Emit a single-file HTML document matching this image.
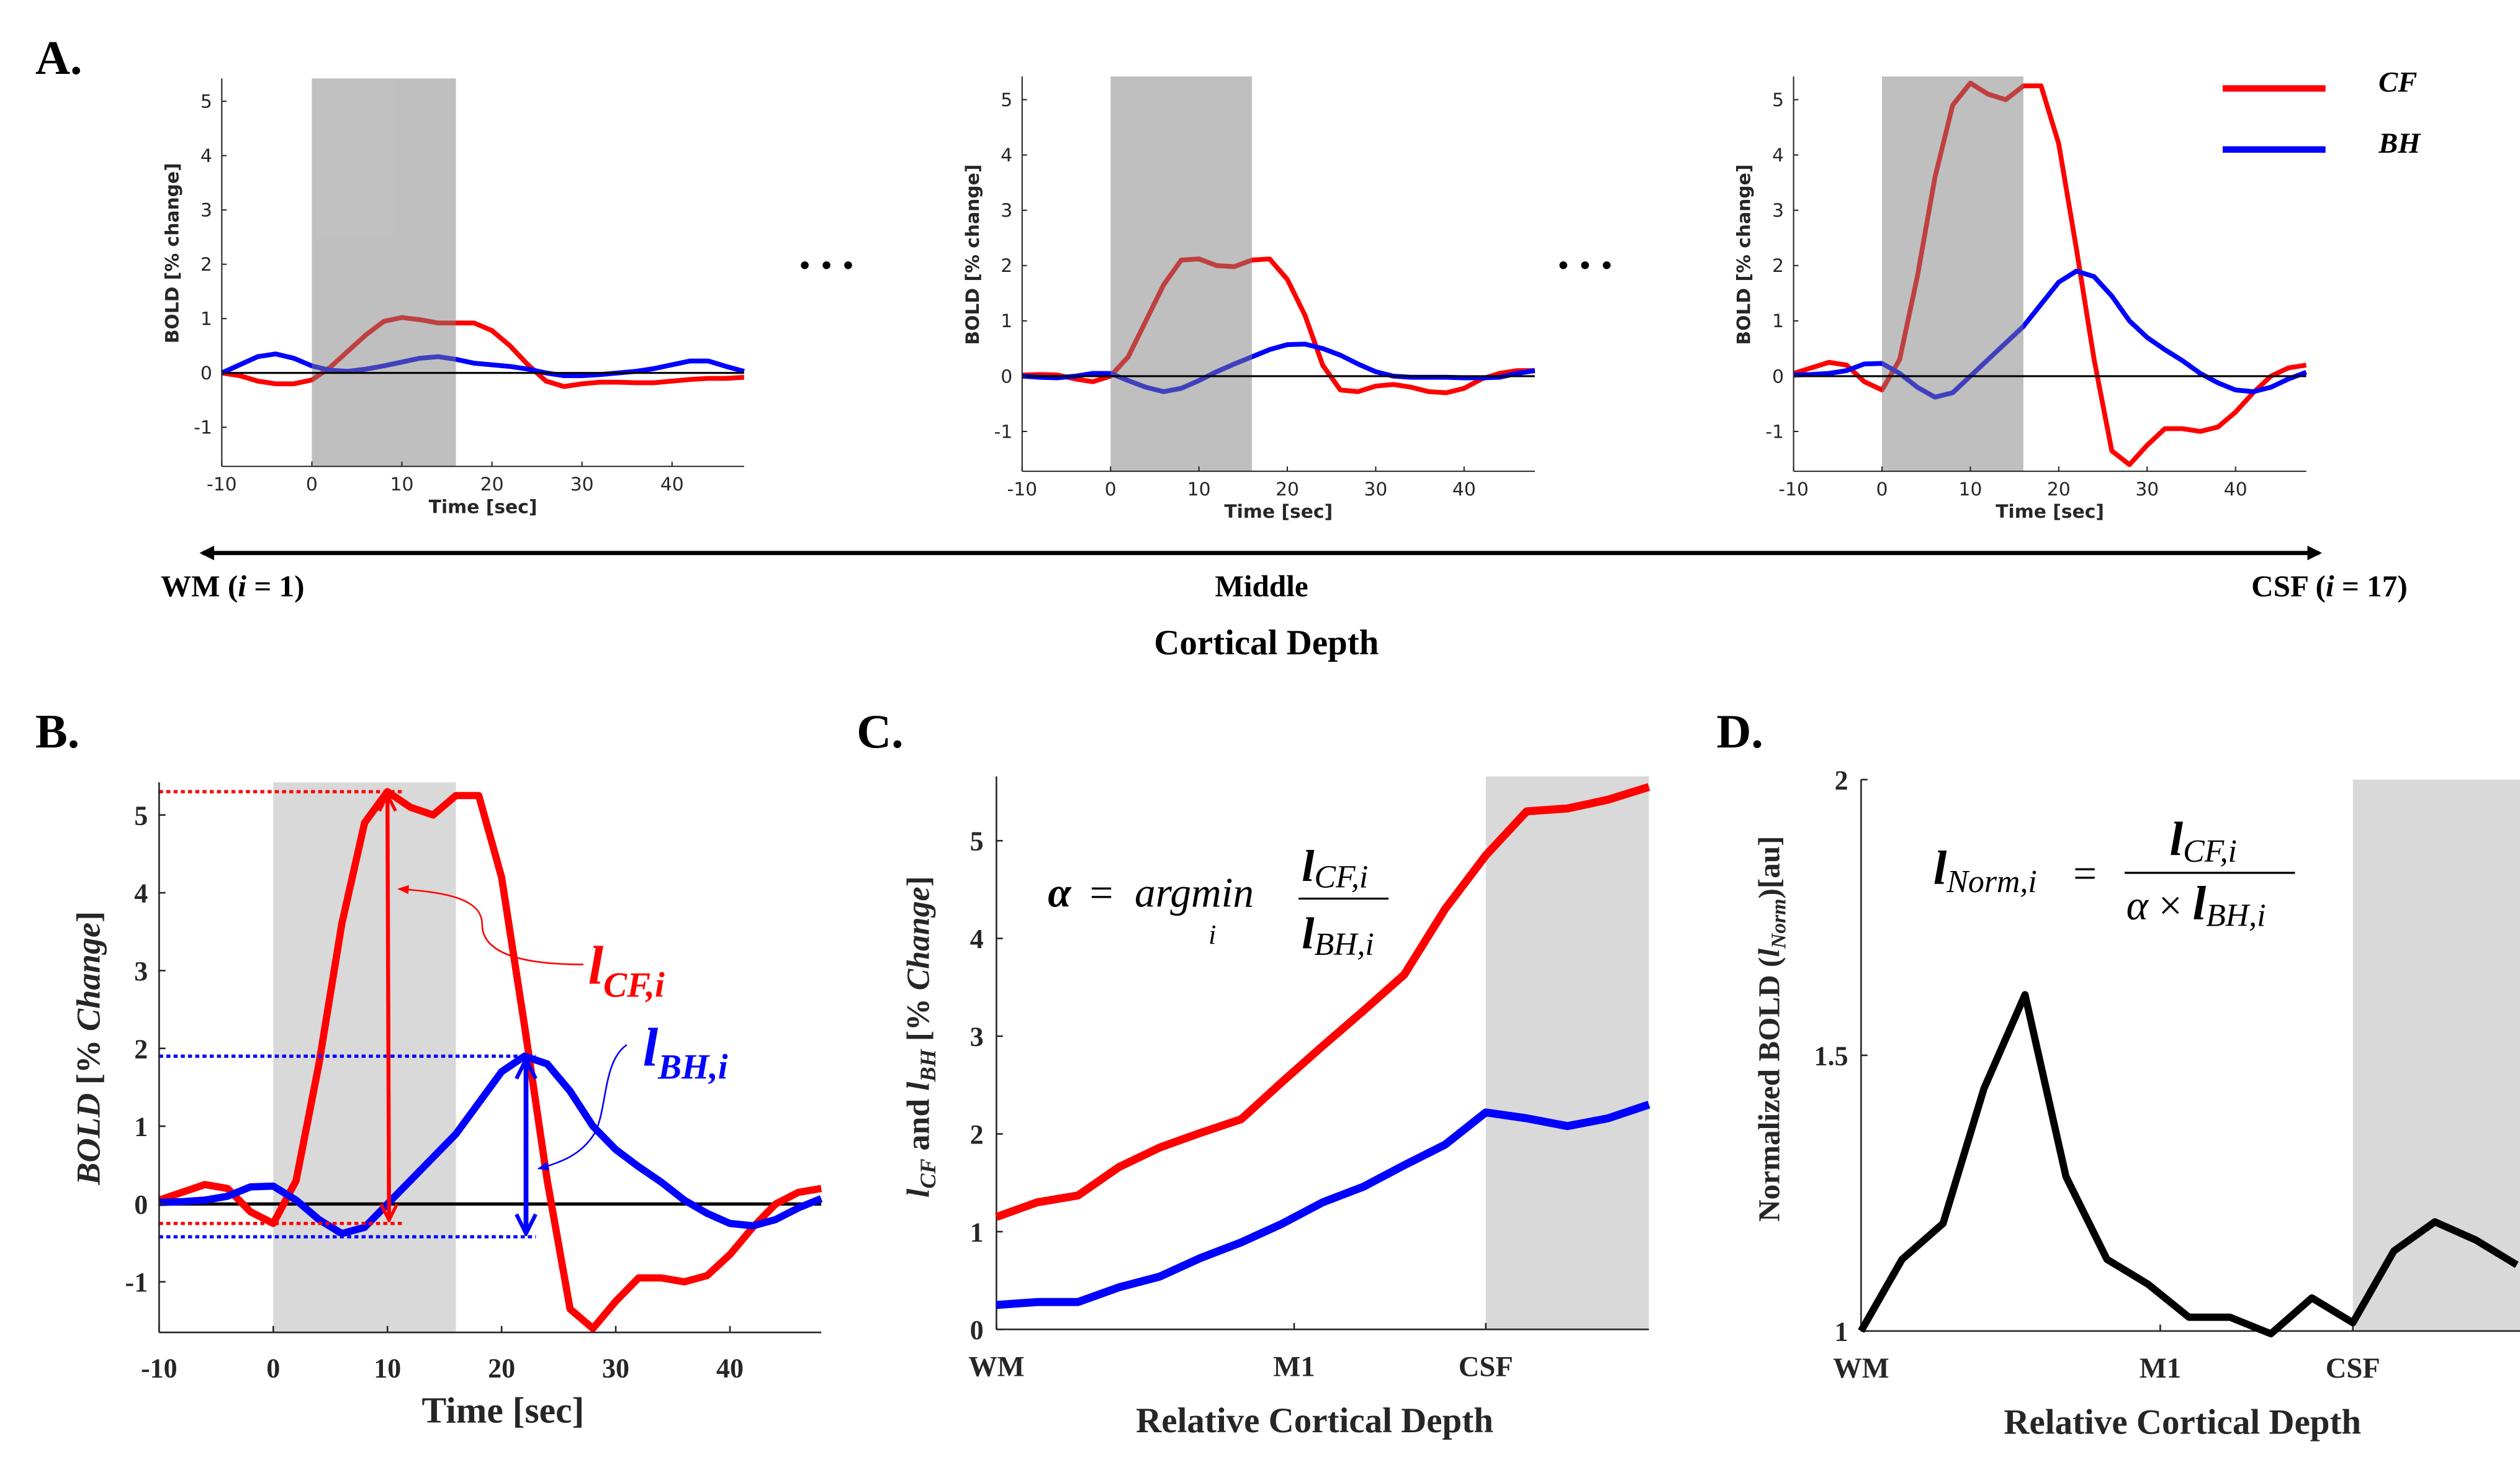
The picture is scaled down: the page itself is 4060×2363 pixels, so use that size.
<!DOCTYPE html>
<html><head><meta charset="utf-8">
<style>
html,body{margin:0;padding:0;background:#fff;}
svg{display:block;}
.serif{font-family:"Liberation Serif",serif;}
.sans{font-family:"DejaVu Sans","Liberation Sans",sans-serif;}
</style></head>
<body>
<svg id="fig" xmlns="http://www.w3.org/2000/svg" width="4060" height="2363" viewBox="0 0 1568 912.6">
<defs>
<marker id="arrR" viewBox="0 0 10 10" refX="9" refY="5" markerWidth="5" markerHeight="5" orient="auto-start-reverse"><path d="M1,1 L9,5 L1,9" fill="none" stroke="#ff0000" stroke-width="1.6"/></marker>
<marker id="arrB" viewBox="0 0 10 10" refX="9" refY="5" markerWidth="5" markerHeight="5" orient="auto-start-reverse"><path d="M1,1 L9,5 L1,9" fill="none" stroke="#0000ff" stroke-width="1.6"/></marker>
<marker id="tipR" viewBox="0 0 10 10" refX="9" refY="5" markerWidth="7" markerHeight="7" orient="auto"><path d="M0,1 L10,5 L0,9 Z" fill="#ff0000"/></marker>
<marker id="tipB" viewBox="0 0 10 10" refX="9" refY="5" markerWidth="7" markerHeight="7" orient="auto"><path d="M0,1 L10,5 L0,9 Z" fill="#0000ff"/></marker>
<marker id="bigArr" viewBox="0 0 10 10" refX="8" refY="5" markerWidth="3.5" markerHeight="3.5" orient="auto-start-reverse"><path d="M0,0 L10,5 L0,10 Z" fill="#000"/></marker>
</defs>
<g id="layer"></g>
</svg>
<script>
// ---------- data ----------
const times = [-10,-8,-6,-4,-2,0,2,4,6,8,10,12,14,16,18,20,22,24,26,28,30,32,34,36,38,40,42,44,46,48];
const wmCF  = [0,-0.05,-0.15,-0.2,-0.2,-0.13,0.1,0.4,0.7,0.95,1.02,0.98,0.92,0.92,0.92,0.78,0.5,0.15,-0.15,-0.25,-0.2,-0.17,-0.17,-0.18,-0.18,-0.15,-0.12,-0.1,-0.1,-0.08];
const wmBH  = [0,0.15,0.3,0.35,0.27,0.13,0.05,0.03,0.07,0.13,0.2,0.27,0.3,0.25,0.18,0.15,0.12,0.07,0,-0.05,-0.05,-0.03,0,0.03,0.08,0.15,0.22,0.22,0.12,0.03];
const midCF = [0.02,0.03,0.02,-0.05,-0.1,0,0.35,1.0,1.65,2.1,2.12,2.0,1.98,2.1,2.12,1.75,1.1,0.2,-0.25,-0.28,-0.18,-0.15,-0.2,-0.28,-0.3,-0.22,-0.05,0.05,0.1,0.1];
const midBH = [0,-0.02,-0.03,0,0.05,0.05,-0.08,-0.2,-0.28,-0.22,-0.08,0.08,0.22,0.35,0.48,0.57,0.58,0.5,0.38,0.22,0.08,0,-0.02,-0.02,-0.02,-0.03,-0.03,-0.02,0.05,0.1];
const csfCF = [0.05,0.15,0.25,0.2,-0.1,-0.25,0.3,1.8,3.6,4.9,5.3,5.1,5.0,5.25,5.25,4.2,2.3,0.3,-1.35,-1.6,-1.25,-0.95,-0.95,-1.0,-0.92,-0.65,-0.3,0.0,0.15,0.2];
const csfBH = [0.02,0.03,0.05,0.1,0.22,0.23,0.05,-0.2,-0.38,-0.3,0.0,0.3,0.6,0.9,1.3,1.7,1.9,1.8,1.45,1.0,0.7,0.48,0.28,0.05,-0.12,-0.25,-0.28,-0.2,-0.05,0.07];
const timeTicks = [-10,0,10,20,30,40];
const boldTicksA = [-1,0,1,2,3,4,5];
const depthIdx = [0,1,2,3,4,5,6,7,8,9,10,11,12,13,14,15,16];
const lCF = [1.15,1.3,1.37,1.66,1.86,2.01,2.15,2.53,2.9,3.26,3.63,4.3,4.85,5.3,5.33,5.42,5.55];
const lBH = [0.25,0.28,0.28,0.43,0.54,0.73,0.89,1.08,1.3,1.46,1.68,1.89,2.22,2.16,2.08,2.16,2.3];
const lNorm = [1.0,1.13,1.195,1.44,1.61,1.28,1.13,1.085,1.025,1.025,0.995,1.06,1.015,1.145,1.198,1.165,1.12];
const cTicks = [0,1,2,3,4,5];
const dTicks = [1,1.5,2];
const depthLabels = ["WM","M1","CSF"];
const depthLabelPos = [0,7.3,12];

// ---------- helpers ----------
const NS = "http://www.w3.org/2000/svg";
const layer = document.getElementById('layer');
function mk(tag, attrs, parent, text){
  const e = document.createElementNS(NS, tag);
  for (const k in attrs) e.setAttribute(k, attrs[k]);
  if (text !== undefined) e.textContent = text;
  (parent || layer).appendChild(e);
  return e;
}
function scale(d0,d1,r0,r1){ return v => r0 + (v-d0)*(r1-r0)/(d1-d0); }
function pathFrom(xs, ys, sx, sy){ return xs.map((x,i)=>(i?'L':'M')+sx(x).toFixed(2)+','+sy(ys[i]).toFixed(2)).join(' '); }

// ---------- panel A ----------
function panelA(name, L, R, zeroY, fiveY, cf, bh){
  const g = mk('g', {});
  
  
  const sx = scale(-10,48,L,R);
  const sy = scale(0,5,zeroY,fiveY);
  const top = sy(5.42), bot = sy(-1.72);
  const l1 = mk('path',{d:pathFrom(times,cf,sx,sy),fill:'none',stroke:'#ff0000','stroke-width':3,'stroke-linejoin':'round'},g);
  
  
  const l2 = mk('path',{d:pathFrom(times,bh,sx,sy),fill:'none',stroke:'#0000ff','stroke-width':3,'stroke-linejoin':'round'},g);
  
  
  const sh = mk('rect',{x:sx(0),y:top,width:sx(16)-sx(0),height:bot-top,fill:'#808080','fill-opacity':0.5},g);
  
  
  mk('line',{x1:L,y1:sy(0),x2:R,y2:sy(0),stroke:'#000','stroke-width':1.2},g);
  mk('line',{x1:L,y1:top,x2:L,y2:bot,stroke:'#262626','stroke-width':0.8},g);
  mk('line',{x1:L,y1:bot,x2:R,y2:bot,stroke:'#262626','stroke-width':0.8},g);
  boldTicksA.forEach(v=>{
    mk('line',{x1:L,y1:sy(v),x2:L+3,y2:sy(v),stroke:'#262626','stroke-width':0.8},g);
    const t = mk('text',{x:L-6,y:sy(v)+4,'text-anchor':'end','font-size':11.5,fill:'#262626',class:'sans'},g,String(v));
    
    
  });
  timeTicks.forEach(v=>{
    mk('line',{x1:sx(v),y1:bot,x2:sx(v),y2:bot-3,stroke:'#262626','stroke-width':0.8},g);
    const t = mk('text',{x:sx(v),y:bot+15,'text-anchor':'middle','font-size':11.5,fill:'#262626',class:'sans'},g,String(v));
    
    
  });
  const xt = mk('text',{x:sx(19),y:bot+29,'text-anchor':'middle','font-size':11.5,'font-weight':'bold',fill:'#262626',class:'sans'},g,'Time [sec]');
  
  
  const yc = (top+bot)/2 - 12;
  const yt = mk('text',{x:0,y:0,transform:`translate(${L-27},${yc}) rotate(-90)`,'text-anchor':'middle','font-size':11.5,'font-weight':'bold',fill:'#262626',class:'sans'},g,'BOLD [% change]');
  
  
}
panelA('panel-a-wm',138,463,232,63,wmCF,wmBH);
panelA('panel-a-middle',636,955,234,62,midCF,midBH);
panelA('panel-a-csf',1116,1435,234,62,csfCF,csfBH);

let t;
t = mk('text',{x:22,y:46,'font-size':30,'font-weight':'bold',class:'serif'},layer,'A.');
 
t = mk('text',{x:497,y:167,'font-size':30,'font-weight':'bold',class:'serif','letter-spacing':'6'},layer,'...');
 
t = mk('text',{x:969,y:167,'font-size':30,'font-weight':'bold',class:'serif','letter-spacing':'6'},layer,'...');
 

// legend
let lg = mk('g',{});
 
mk('line',{x1:1383,y1:55,x2:1447,y2:55,stroke:'#ff0000','stroke-width':4},lg);
mk('text',{x:1480,y:57,'font-size':18,'font-style':'italic','font-weight':'bold',class:'serif'},lg,'CF');
mk('line',{x1:1383,y1:93,x2:1447,y2:93,stroke:'#0000ff','stroke-width':4},lg);
mk('text',{x:1480,y:95,'font-size':18,'font-style':'italic','font-weight':'bold',class:'serif'},lg,'BH');

// depth arrow
t = mk('line',{x1:126,y1:344,x2:1443,y2:344,stroke:'#000','stroke-width':2.6,'marker-start':'url(#bigArr)','marker-end':'url(#bigArr)'});
 
t = mk('text',{x:100,y:371,'font-size':19,'font-weight':'bold',class:'serif'},layer);
t.innerHTML = 'WM (<tspan font-style="italic">i</tspan> = 1)';
 
t = mk('text',{x:785,y:371,'font-size':19,'font-weight':'bold','text-anchor':'middle',class:'serif'},layer,'Middle');
 
t = mk('text',{x:1498,y:371,'font-size':19,'font-weight':'bold','text-anchor':'end',class:'serif'},layer);
t.innerHTML = 'CSF (<tspan font-style="italic">i</tspan> = 17)';
 
t = mk('text',{x:788,y:407,'font-size':22,'font-weight':'bold','text-anchor':'middle',class:'serif'},layer,'Cortical Depth');
 

// ---------- panel B ----------
(function(){
  const g = mk('g',{});
   
  const L=99, R=511;
  const sx = scale(-10,48,L,R), sy = scale(0,5,749,507);
  const top = sy(5.42), bot = sy(-1.65);
  mk('rect',{x:sx(0),y:top,width:sx(16)-sx(0),height:bot-top,fill:'#d9d9d9'},g);
  mk('line',{x1:L,y1:sy(0),x2:R,y2:sy(0),stroke:'#000','stroke-width':2},g);
  let p = mk('path',{d:pathFrom(times,csfCF,sx,sy),fill:'none',stroke:'#ff0000','stroke-width':4.5,'stroke-linejoin':'round'},g);
   
  p = mk('path',{d:pathFrom(times,csfBH,sx,sy),fill:'none',stroke:'#0000ff','stroke-width':4.5,'stroke-linejoin':'round'},g);
   
  const cfMax = Math.max(...csfCF), cfMin = Math.min(...csfCF.slice(0,10));
  const bhMax = Math.max(...csfBH), bhMin = Math.min(...csfBH.slice(0,16));
  const tCF = times[csfCF.indexOf(cfMax)], tBH = times[csfBH.indexOf(bhMax)];
  mk('line',{x1:L,y1:sy(cfMax),x2:sx(11.5),y2:sy(cfMax),stroke:'#ff0000','stroke-width':2,'stroke-dasharray':'2.5,2'},g);
  mk('line',{x1:L,y1:sy(cfMin),x2:sx(11.5),y2:sy(cfMin),stroke:'#ff0000','stroke-width':2,'stroke-dasharray':'2.5,2'},g);
  mk('line',{x1:L,y1:sy(bhMax),x2:sx(23),y2:sy(bhMax),stroke:'#0000ff','stroke-width':2,'stroke-dasharray':'2.5,2'},g);
  mk('line',{x1:L,y1:sy(bhMin)+2,x2:sx(23),y2:sy(bhMin)+2,stroke:'#0000ff','stroke-width':2,'stroke-dasharray':'2.5,2'},g);
  p = mk('line',{x1:sx(tCF),y1:sy(cfMax)+2,x2:sx(tCF)+1,y2:sy(cfMin)-2,stroke:'#ff0000','stroke-width':2.5,'marker-start':'url(#arrR)','marker-end':'url(#arrR)'},g);
   
  p = mk('line',{x1:sx(tBH)+1,y1:sy(bhMax)+2,x2:sx(tBH)+1,y2:sy(bhMin),stroke:'#0000ff','stroke-width':3,'marker-start':'url(#arrB)','marker-end':'url(#arrB)'},g);
   
  mk('path',{d:'M363,600 C330,600 300,595 300,575 C300,560 280,555 248,553',fill:'none',stroke:'#ff0000','stroke-width':1,'marker-end':'url(#tipR)'},g);
  mk('path',{d:'M390,650 C375,660 378,690 370,705 C362,718 350,723 335,727',fill:'none',stroke:'#0000ff','stroke-width':1,'marker-end':'url(#tipB)'},g);
  t = mk('text',{x:366,y:612,'font-size':34,'font-style':'italic','font-weight':'bold',fill:'#ff0000',class:'serif'},g);
  t.innerHTML = 'l<tspan font-size="22" dy="8">CF,i</tspan>';
   
  t = mk('text',{x:400,y:663,'font-size':34,'font-style':'italic','font-weight':'bold',fill:'#0000ff',class:'serif'},g);
  t.innerHTML = 'l<tspan font-size="22" dy="8">BH,i</tspan>';
   
  mk('line',{x1:L,y1:top,x2:L,y2:bot,stroke:'#262626','stroke-width':1},g);
  mk('line',{x1:L,y1:bot,x2:R,y2:bot,stroke:'#262626','stroke-width':1},g);
  [-1,0,1,2,3,4,5].forEach(v=>{
    mk('line',{x1:L,y1:sy(v),x2:L+4,y2:sy(v),stroke:'#262626','stroke-width':1},g);
    const tt = mk('text',{x:L-7,y:sy(v)+6,'text-anchor':'end','font-size':17,'font-weight':'bold',fill:'#262626',class:'serif'},g,String(v));
     
  });
  timeTicks.forEach(v=>{
    mk('line',{x1:sx(v),y1:bot,x2:sx(v),y2:bot-4,stroke:'#262626','stroke-width':1},g);
    const tt = mk('text',{x:sx(v),y:bot+28,'text-anchor':'middle','font-size':17,'font-weight':'bold',fill:'#262626',class:'serif'},g,String(v));
     
  });
  t = mk('text',{x:313,y:885,'text-anchor':'middle','font-size':23,'font-weight':'bold',fill:'#262626',class:'serif'},g,'Time [sec]');
   
  t = mk('text',{x:0,y:0,transform:'translate(62,652) rotate(-90)','text-anchor':'middle','font-size':21,'font-weight':'bold',fill:'#262626',class:'serif'},g);
  t.innerHTML = '<tspan font-style="italic">BOLD</tspan> [% <tspan font-style="italic">Change</tspan>]';
   
  t = mk('text',{x:22,y:465,'font-size':30,'font-weight':'bold',class:'serif'},g,'B.');
   
})();

// ---------- depth panels ----------
function depthAxes(g, L, R, bot, top, sx, sy, ticks, tickFmt){
  mk('rect',{x:sx(12),y:top,width:R-sx(12),height:bot-top,fill:'#d9d9d9'},g);
  mk('line',{x1:L,y1:top,x2:L,y2:bot,stroke:'#262626','stroke-width':1},g);
  mk('line',{x1:L,y1:bot,x2:R,y2:bot,stroke:'#262626','stroke-width':1},g);
  ticks.forEach(v=>{
    mk('line',{x1:L,y1:sy(v),x2:L+4,y2:sy(v),stroke:'#262626','stroke-width':1},g);
    const tt = mk('text',{x:L-8,y:sy(v)+6,'text-anchor':'end','font-size':17,'font-weight':'bold',fill:'#262626',class:'serif'},g,tickFmt(v));
     
  });
  depthLabels.forEach((lab,i)=>{
    mk('line',{x1:sx(depthLabelPos[i]),y1:bot,x2:sx(depthLabelPos[i]),y2:bot-4,stroke:'#262626','stroke-width':1},g);
    const tt = mk('text',{x:sx(depthLabelPos[i]),y:bot+29,'text-anchor':'middle','font-size':18,'font-weight':'bold',fill:'#262626',class:'serif'},g,lab);
     
  });
}
// panel C
(function(){
  const g = mk('g',{});
   
  const L=620, R=1026, bot=827, top=483;
  const sx = scale(0,16,L,R), sy = scale(0,5,827,523);
  depthAxes(g,L,R,bot,top,sx,sy,cTicks,v=>String(v));
  let p = mk('path',{d:pathFrom(depthIdx,lCF,sx,sy),fill:'none',stroke:'#ff0000','stroke-width':5,'stroke-linejoin':'round'},g);
   
  p = mk('path',{d:pathFrom(depthIdx,lBH,sx,sy),fill:'none',stroke:'#0000ff','stroke-width':5,'stroke-linejoin':'round'},g);
   
  const f = mk('g',{},g);
   
  mk('text',{x:652,y:564,'font-size':26,'font-style':'italic','font-weight':'bold',class:'serif'},f,'α');
  mk('text',{x:678,y:564,'font-size':26,class:'serif'},f,'=');
  mk('text',{x:706,y:564,'font-size':26,'font-style':'italic',class:'serif'},f,'argmin');
  mk('text',{x:752,y:587,'font-size':17,'font-style':'italic',class:'serif'},f,'i');
  mk('line',{x1:808,y1:559,x2:864,y2:559,stroke:'#000','stroke-width':1.2},f);
  let tt = mk('text',{x:810,y:548,'font-size':28,'font-style':'italic','font-weight':'bold',class:'serif'},f);
  tt.innerHTML = 'l<tspan font-size="20" font-weight="normal" dy="4">CF,i</tspan>';
  tt = mk('text',{x:810,y:590,'font-size':28,'font-style':'italic','font-weight':'bold',class:'serif'},f);
  tt.innerHTML = 'l<tspan font-size="20" font-weight="normal" dy="4">BH,i</tspan>';
  t = mk('text',{x:818,y:891,'text-anchor':'middle','font-size':22,'font-weight':'bold',fill:'#262626',class:'serif'},g,'Relative Cortical Depth');
   
  t = mk('text',{x:0,y:0,transform:'translate(578,645) rotate(-90)','text-anchor':'middle','font-size':20,'font-weight':'bold',fill:'#262626',class:'serif'},g);
  t.innerHTML = '<tspan font-style="italic">l</tspan><tspan font-style="italic" font-size="14" dy="4">CF</tspan><tspan dy="-4"> and </tspan><tspan font-style="italic">l</tspan><tspan font-style="italic" font-size="14" dy="4">BH</tspan><tspan dy="-4"> [% </tspan><tspan font-style="italic">Change</tspan>]';
   
  t = mk('text',{x:533,y:465,'font-size':30,'font-weight':'bold',class:'serif'},g,'C.');
   
})();
// panel D
(function(){
  const g = mk('g',{});
   
  const L=1158, R=1568, bot=828, top=485;
  const sx = scale(0,16,L,1566), sy = scale(1,2,828,485);
  depthAxes(g,L,R,bot,top,sx,sy,dTicks,v=>String(v));
  let p = mk('path',{d:pathFrom(depthIdx,lNorm,sx,sy),fill:'none',stroke:'#000','stroke-width':4.5,'stroke-linejoin':'round'},g);
   
  const f = mk('g',{},g);
   
  let tt = mk('text',{x:1203,y:550,'font-size':30,'font-style':'italic','font-weight':'bold',class:'serif'},f);
  tt.innerHTML = 'l<tspan font-size="20" font-weight="normal" dy="5">Norm,i</tspan>';
  mk('text',{x:1290,y:552,'font-size':26,class:'serif'},f,'=');
  mk('line',{x1:1322,y1:543,x2:1428,y2:543,stroke:'#000','stroke-width':1.3},f);
  tt = mk('text',{x:1350,y:532,'font-size':30,'font-style':'italic','font-weight':'bold',class:'serif'},f);
  tt.innerHTML = 'l<tspan font-size="20" font-weight="normal" dy="4">CF,i</tspan>';
  tt = mk('text',{x:1323,y:572,'font-size':26,class:'serif'},f);
  tt.innerHTML = '<tspan font-style="italic">α</tspan> × <tspan font-style="italic" font-weight="bold" font-size="30">l</tspan><tspan font-style="italic" font-size="20" dy="4">BH,i</tspan>';
  t = mk('text',{x:1358,y:892,'text-anchor':'middle','font-size':22,'font-weight':'bold',fill:'#262626',class:'serif'},g,'Relative Cortical Depth');
   
  t = mk('text',{x:0,y:0,transform:'translate(1107,640) rotate(-90)','text-anchor':'middle','font-size':19,'font-weight':'bold',fill:'#262626',class:'serif'},g);
  t.innerHTML = 'Normalized BOLD (<tspan font-style="italic">l</tspan><tspan font-style="italic" font-size="13" dy="4">Norm</tspan><tspan dy="-4">)[au]</tspan>';
   
  t = mk('text',{x:1068,y:465,'font-size':30,'font-weight':'bold',class:'serif'},g,'D.');
   
})();
</script>
</body></html>
